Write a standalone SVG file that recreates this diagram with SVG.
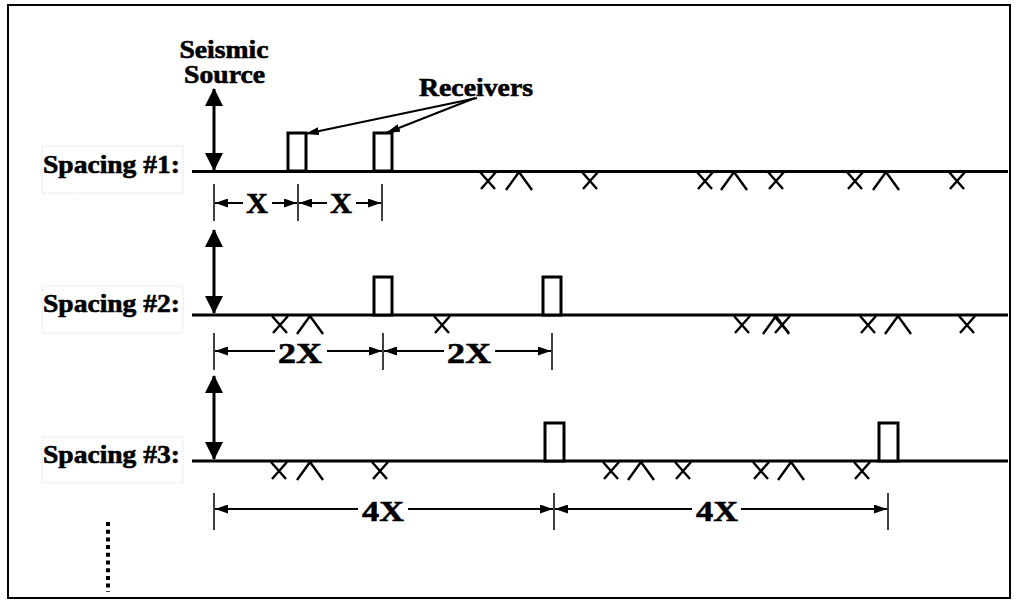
<svg xmlns="http://www.w3.org/2000/svg" width="1018" height="601" viewBox="0 0 1018 601">
  <style>
    .lbl { font-family: "Liberation Serif", serif; font-weight: 700; fill: #000; stroke: #000; stroke-width: 0.6; }
    .big { font-size: 25px; }
    .dim { font-size: 30px; }
    .ground { stroke: #000; stroke-width: 3; fill: none; }
    .rcv { stroke: #000; stroke-width: 3; fill: #fff; }
    .src { stroke: #000; stroke-width: 3; fill: none; marker-start: url(#srcHead); marker-end: url(#srcHead); }
    .tick { stroke: #000; stroke-width: 1.5; }
    .dline { stroke: #000; stroke-width: 2; marker-end: url(#dimHead); }
    .mark { stroke: #000; stroke-width: 2.4; fill: none; }
    .tagbox { fill: none; stroke: #dcdcdc; stroke-width: 1; stroke-dasharray: 1 1; }
    .ptr { stroke: #000; stroke-width: 2; marker-end: url(#ptrHead); }
  </style>
  <defs>
    <marker id="srcHead" viewBox="0 0 18 18" refX="17" refY="9" markerWidth="18" markerHeight="18" markerUnits="userSpaceOnUse" orient="auto-start-reverse">
      <path d="M0,0 L18,9 L0,18 z" fill="#000"/>
    </marker>
    <marker id="dimHead" viewBox="0 0 13 9" refX="13" refY="4.5" markerWidth="13" markerHeight="9" markerUnits="userSpaceOnUse" orient="auto">
      <path d="M0,0 L13,4.5 L0,9 z" fill="#000"/>
    </marker>
    <marker id="ptrHead" viewBox="0 0 14 8" refX="14" refY="4" markerWidth="14" markerHeight="8" markerUnits="userSpaceOnUse" orient="auto">
      <path d="M0,0 L14,4 L0,8 z" fill="#000"/>
    </marker>
    <!-- geophone-style marks hanging under the ground line -->
    <path id="mx" d="M-8,0 L7,17 M8,0 L-7,17"/>
    <path id="ml" d="M0,0 L-13,18 M0,0 L13,18"/>
  </defs>

  <rect x="0" y="0" width="1018" height="601" fill="#fff"/>
  <rect x="8" y="5" width="1002" height="593" fill="none" stroke="#000" stroke-width="2"/>

  <!-- Row 1 -->
  <g id="row1">
    <rect class="tagbox" x="42" y="146" width="141" height="47"/>
    <text class="lbl big" x="43" y="173" textLength="137" lengthAdjust="spacingAndGlyphs">Spacing #1:</text>
    <line class="ground" x1="192" y1="171.5" x2="1008" y2="171.5"/>
    <rect class="rcv" x="288" y="133" width="18" height="38"/>
    <rect class="rcv" x="374" y="133" width="18" height="38"/>
    <g class="mark">
      <use href="#mx" x="488" y="172"/>
      <use href="#ml" x="519" y="172"/>
      <use href="#mx" x="590" y="172"/>
      <use href="#mx" x="705" y="172"/>
      <use href="#ml" x="734" y="172"/>
      <use href="#mx" x="776" y="172"/>
      <use href="#mx" x="855" y="172"/>
      <use href="#ml" x="886" y="172"/>
      <use href="#mx" x="957" y="172"/>
    </g>
  </g>

  <g id="source-label">
    <text class="lbl big" x="224" y="58" text-anchor="middle" textLength="89" lengthAdjust="spacingAndGlyphs">Seismic</text>
    <text class="lbl big" x="224.5" y="83" text-anchor="middle" textLength="81" lengthAdjust="spacingAndGlyphs">Source</text>
  </g>

  <g id="receivers-label">
    <text class="lbl big" x="419" y="96" textLength="114" lengthAdjust="spacingAndGlyphs">Receivers</text>
  </g>

  <!-- Row 2 -->
  <g id="row2">
    <rect class="tagbox" x="42" y="286" width="141" height="47"/>
    <text class="lbl big" x="43" y="312" textLength="137" lengthAdjust="spacingAndGlyphs">Spacing #2:</text>
    <line class="ground" x1="192" y1="315" x2="1008" y2="315"/>
    <rect class="rcv" x="374" y="277" width="18" height="38"/>
    <rect class="rcv" x="543" y="277" width="18" height="38"/>
    <g class="mark">
      <use href="#mx" x="280" y="316"/>
      <use href="#ml" x="310" y="316"/>
      <use href="#mx" x="442" y="316"/>
      <use href="#mx" x="742" y="316"/>
      <use href="#ml" x="776" y="316"/>
      <use href="#mx" x="782" y="316"/>
      <use href="#mx" x="868" y="316"/>
      <use href="#ml" x="898" y="316"/>
      <use href="#mx" x="967" y="316"/>
    </g>
  </g>

  <!-- Row 3 -->
  <g id="row3">
    <rect class="tagbox" x="42" y="437" width="141" height="46"/>
    <text class="lbl big" x="43" y="463" textLength="137" lengthAdjust="spacingAndGlyphs">Spacing #3:</text>
    <line class="ground" x1="192" y1="461" x2="1008" y2="461"/>
    <rect class="rcv" x="545" y="423" width="19" height="38"/>
    <rect class="rcv" x="879" y="423" width="19" height="38"/>
    <g class="mark">
      <use href="#mx" x="279" y="462"/>
      <use href="#ml" x="310" y="462"/>
      <use href="#mx" x="380" y="462"/>
      <use href="#mx" x="611" y="462"/>
      <use href="#ml" x="641" y="462"/>
      <use href="#mx" x="683" y="462"/>
      <use href="#mx" x="761" y="462"/>
      <use href="#ml" x="791" y="462"/>
      <use href="#mx" x="862" y="462"/>
    </g>
  </g>

  <g id="continuation">
    <line x1="108" y1="522" x2="108" y2="592" stroke="#000" stroke-width="4" stroke-dasharray="4 3.7"/>
  </g>

  <!-- source arrows, pointers and dimension lines -->
  <g id="connectors">
    <line class="src" x1="214" y1="89" x2="214" y2="170"/>
    <line class="src" x1="214" y1="230" x2="214" y2="313"/>
    <line class="src" x1="214" y1="376" x2="214" y2="459"/>

    <line class="ptr" x1="477" y1="98" x2="305" y2="134"/>
    <line class="ptr" x1="475" y1="98" x2="386" y2="133"/>

    <!-- spacing #1 dimensions -->
    <line class="tick" x1="214" y1="184" x2="214" y2="221"/>
    <line class="tick" x1="298" y1="184" x2="298" y2="221"/>
    <line class="tick" x1="382" y1="184" x2="382" y2="221"/>
    <line class="dline" x1="243" y1="203" x2="215" y2="203"/>
    <line class="dline" x1="272" y1="203" x2="297" y2="203"/>
    <line class="dline" x1="327" y1="203" x2="299" y2="203"/>
    <line class="dline" x1="356" y1="203" x2="381" y2="203"/>
    <text class="lbl dim" x="257" y="213" text-anchor="middle" textLength="22" lengthAdjust="spacingAndGlyphs">X</text>
    <text class="lbl dim" x="341" y="213" text-anchor="middle" textLength="22" lengthAdjust="spacingAndGlyphs">X</text>

    <!-- spacing #2 dimensions -->
    <line class="tick" x1="214" y1="333" x2="214" y2="370"/>
    <line class="tick" x1="383" y1="333" x2="383" y2="370"/>
    <line class="tick" x1="552" y1="333" x2="552" y2="370"/>
    <line class="dline" x1="275" y1="351" x2="215" y2="351"/>
    <line class="dline" x1="327" y1="351" x2="382" y2="351"/>
    <line class="dline" x1="444" y1="351" x2="384" y2="351"/>
    <line class="dline" x1="495" y1="351" x2="551" y2="351"/>
    <text class="lbl dim" x="300" y="363" text-anchor="middle" textLength="44" lengthAdjust="spacingAndGlyphs">2X</text>
    <text class="lbl dim" x="469" y="363" text-anchor="middle" textLength="44" lengthAdjust="spacingAndGlyphs">2X</text>

    <!-- spacing #3 dimensions -->
    <line class="tick" x1="214" y1="493" x2="214" y2="530"/>
    <line class="tick" x1="554" y1="493" x2="554" y2="530"/>
    <line class="tick" x1="888" y1="493" x2="888" y2="530"/>
    <line class="dline" x1="358" y1="509" x2="215" y2="509"/>
    <line class="dline" x1="408" y1="509" x2="553" y2="509"/>
    <line class="dline" x1="692" y1="509" x2="555" y2="509"/>
    <line class="dline" x1="741" y1="509" x2="887" y2="509"/>
    <text class="lbl dim" x="383" y="521" text-anchor="middle" textLength="42" lengthAdjust="spacingAndGlyphs">4X</text>
    <text class="lbl dim" x="717" y="521" text-anchor="middle" textLength="42" lengthAdjust="spacingAndGlyphs">4X</text>
  </g>
</svg>
